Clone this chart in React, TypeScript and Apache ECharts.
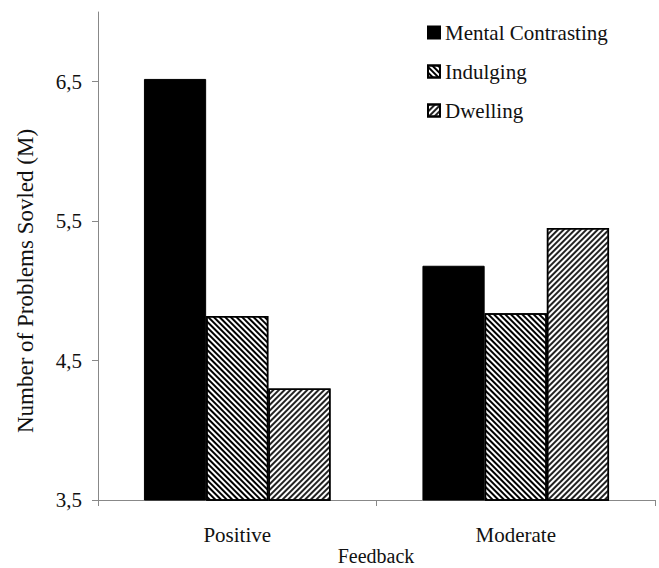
import React, { useEffect, useRef } from "react";
import * as echarts from "echarts";

const categories = ["Positive", "Moderate"];
const seriesNames = ["Mental Contrasting", "Indulging", "Dwelling"];
const mentalContrasting = [6.52, 5.18];
const indulging = [4.82, 4.84];
const dwelling = [4.3, 5.45];
const yTicks = [3.5, 4.5, 5.5, 6.5];
const yTitle = "Number of Problems Sovled (M)";
const xTitle = "Feedback";

const FONT = "Liberation Serif";

export default function App() {
  const ref = useRef<HTMLDivElement>(null);
  useEffect(() => {
    if (!ref.current) return;
    const chart = echarts.init(ref.current, null, { renderer: "svg" });
    const base = {
      type: "bar",
      barGap: "0%",
      barCategoryGap: "33%",
    };
    chart.setOption({
      animation: false,
      backgroundColor: "#fff",
      grid: { left: 98, right: 4, top: 12, bottom: 68, containLabel: false, outerBoundsMode: "none" },
      graphic: [
        {
          type: "text",
          x: 25,
          y: 281,
          rotation: Math.PI / 2,
          style: {
            text: yTitle,
            fontFamily: FONT,
            fontSize: 23,
            fill: "#111",
            textAlign: "center",
            textVerticalAlign: "middle",
          },
        },
        {
          type: "text",
          x: 376,
          y: 556,
          style: {
            text: xTitle,
            fontFamily: FONT,
            fontSize: 20,
            fill: "#111",
            textAlign: "center",
            textVerticalAlign: "middle",
          },
        },
      ],
      legend: {
        orient: "vertical",
        left: 427,
        top: 22,
        padding: 0,
        itemWidth: 12,
        itemHeight: 12,
        itemGap: 18,
        icon: "rect",
        textStyle: { fontFamily: FONT, fontSize: 21, color: "#111" },
        data: seriesNames,
      },
      xAxis: {
        type: "category",
        data: categories,
        axisLine: { lineStyle: { color: "#888", width: 1 } },
        axisTick: { show: true, length: 6, lineStyle: { color: "#888" } },
        axisLabel: { fontFamily: FONT, fontSize: 21, color: "#111", margin: 24 },
      },
      yAxis: {
        type: "value",
        min: 3.5,
        max: 7,
        axisLine: { show: true, lineStyle: { color: "#888", width: 1 } },
        axisTick: { show: true, length: 6, lineStyle: { color: "#888" }, customValues: yTicks },
        splitLine: { show: false },
        axisLabel: {
          fontFamily: FONT,
          fontSize: 21,
          color: "#111",
          margin: 16,
          customValues: yTicks,
          formatter: (v: number) => v.toFixed(1).replace(".", ","),
        },
      },
      series: [
        {
          ...base,
          name: seriesNames[0],
          data: mentalContrasting,
          itemStyle: { color: "#000", borderColor: "#000", borderWidth: 1 },
        },
        {
          ...base,
          name: seriesNames[1],
          data: indulging,
          itemStyle: {
            color: "#fff",
            borderColor: "#000",
            borderWidth: 1.5,
            decal: {
              symbol: "rect",
              symbolSize: 1,
              dashArrayX: [1, 0],
              dashArrayY: [2, 2],
              rotation: Math.PI / 4,
              color: "#000",
            },
          },
        },
        {
          ...base,
          name: seriesNames[2],
          data: dwelling,
          itemStyle: {
            color: "#fff",
            borderColor: "#000",
            borderWidth: 1.5,
            decal: {
              symbol: "rect",
              symbolSize: 1,
              dashArrayX: [1, 0],
              dashArrayY: [1.1, 1.1],
              rotation: -Math.PI / 4,
              color: "#222",
            },
          },
        },
      ],
    });
    return () => chart.dispose();
  }, []);
  return <div ref={ref} style={{ width: 659, height: 568, position: "absolute", left: 0, top: 0 }} />;
}
